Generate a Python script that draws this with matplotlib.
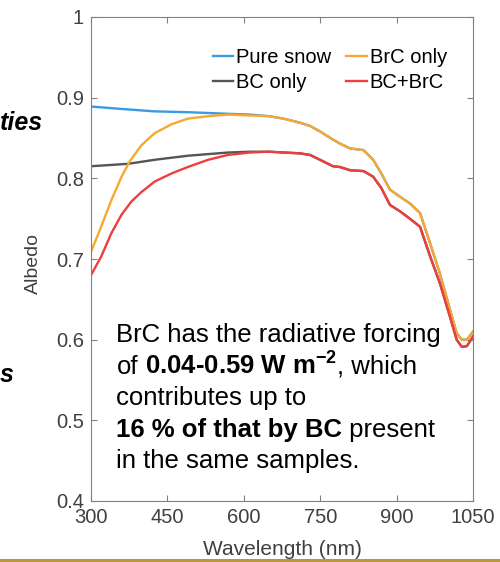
import matplotlib.pyplot as plt
from matplotlib.patches import Rectangle

plt.rcParams['font.family'] = ['Liberation Sans', 'DejaVu Sans']
plt.rcParams['mathtext.fontset'] = 'custom'
plt.rcParams['mathtext.rm'] = 'Liberation Sans'
plt.rcParams['mathtext.bf'] = 'Liberation Sans:bold'
plt.rcParams['lines.solid_joinstyle'] = 'round'

# albedo spectra
wl_snow = [300, 360, 425, 490, 569, 612, 650, 678, 710, 730, 750, 775, 789, 809, 835, 854,
           870, 887, 907, 926, 946, 966, 985, 1005, 1018, 1028, 1038, 1050]
albedo_snow = [0.889, 0.886, 0.883, 0.882, 0.880, 0.879, 0.877, 0.874, 0.869, 0.865, 0.858,
               0.848, 0.843, 0.837, 0.835, 0.823, 0.806, 0.786, 0.777, 0.769, 0.757, 0.719,
               0.682, 0.637, 0.608, 0.600, 0.600, 0.610]

wl_bc = [300, 373, 425, 490, 569, 612, 650, 678, 710, 730, 756, 775, 789, 809, 835, 854,
         870, 887, 907, 926, 946, 966, 985, 1005, 1018, 1028, 1038, 1050]
albedo_bc = [0.815, 0.818, 0.823, 0.828, 0.832, 0.833, 0.833, 0.832, 0.831, 0.829, 0.821,
             0.815, 0.814, 0.810, 0.809, 0.802, 0.788, 0.767, 0.759, 0.750, 0.740, 0.703,
             0.670, 0.628, 0.600, 0.591, 0.592, 0.604]

wl_brc = [300, 320, 340, 360, 376, 399, 425, 458, 490, 530, 569, 612, 650, 678, 710, 730,
          750, 775, 789, 809, 835, 854, 870, 887, 907, 926, 946, 966, 985, 1005, 1018, 1028,
          1038, 1050]
albedo_brc = [0.709, 0.740, 0.773, 0.802, 0.821, 0.841, 0.856, 0.867, 0.874, 0.877, 0.879,
              0.878, 0.877, 0.874, 0.869, 0.865, 0.858, 0.848, 0.843, 0.837, 0.835, 0.823,
              0.806, 0.786, 0.777, 0.769, 0.757, 0.719, 0.682, 0.637, 0.608, 0.600, 0.600,
              0.610]

wl_mix = [300, 320, 340, 360, 379, 399, 425, 458, 490, 530, 569, 612, 650, 678, 710, 730,
          756, 775, 789, 809, 835, 854, 870, 887, 907, 926, 946, 966, 985, 1005, 1018, 1028,
          1038, 1050]
albedo_mix = [0.680, 0.703, 0.732, 0.755, 0.771, 0.783, 0.796, 0.806, 0.814, 0.823, 0.829,
              0.832, 0.833, 0.832, 0.831, 0.829, 0.821, 0.815, 0.814, 0.810, 0.809, 0.802,
              0.788, 0.767, 0.759, 0.750, 0.740, 0.703, 0.670, 0.628, 0.600, 0.591, 0.592,
              0.604]

x_ticks = [300, 450, 600, 750, 900, 1050]
y_ticks = [0.4, 0.5, 0.6, 0.7, 0.8, 0.9, 1.0]
y_labels = ['0.4', '0.5', '0.6', '0.7', '0.8', '0.9', '1']

note_lines = [
    [('BrC has the radiative forcing', 'normal')],
    [('of', 'normal'), (r' 0.04-0.59 W m$^{\mathbf{-2}}$', 'bold'), (', which', 'normal')],
    [('contributes up to', 'normal')],
    [('16 % of that by BC', 'bold'), (' present', 'normal')],
    [('in the same samples.', 'normal')],
]

fig = plt.figure(figsize=(5, 5.62), dpi=100)
ax = fig.add_axes([91 / 500, 1 - 501 / 562, 382 / 500, 484 / 562])

ax.plot(wl_snow, albedo_snow, color='#3b9ae1', lw=1.7, label='Pure snow')
ax.plot(wl_bc, albedo_bc, color='#555555', lw=1.7, label='BC only')
ax.plot(wl_brc, albedo_brc, color='#f8a830', lw=1.7, label='BrC only')
ax.plot(wl_mix, albedo_mix, color='#ef3e3e', lw=1.7, label='BC+BrC')

ax.set_xlim(300, 1050)
ax.set_ylim(0.4, 1.0)
ax.set_xticks(x_ticks)
ax.set_yticks(y_ticks)
ax.set_yticklabels(y_labels)
for s in ax.spines.values():
    s.set_color('#808080')
ax.tick_params(direction='in', top=True, right=True, length=4, color='#808080',
               labelcolor='#404040', labelsize=14.5, pad=5)

ax.set_xlabel('Wavelength (nm)', fontsize=15, color='#404040')
ax.xaxis.set_label_coords(0.5, -0.08)
ax.set_ylabel('Albedo', fontsize=14, color='#404040')
ax.yaxis.set_label_coords(-0.128, 0.49)

ax.legend(ncol=2, loc='upper left', bbox_to_anchor=((213 - 91) / 382, (501 - 48) / 484),
          frameon=False, fontsize=14.5, borderaxespad=0, borderpad=0, handlelength=1.0,
          handletextpad=0.15, columnspacing=0.75, labelspacing=0.28)

# text note, pieces chained one after another on each line
for i, parts in enumerate(note_lines):
    y = 562 - (342 + 31.5 * i)
    t = ax.annotate(parts[0][0], xy=(116.5, y), xycoords='figure pixels', va='baseline',
                    fontsize=18.5, fontweight=parts[0][1], color='black')
    for txt, w in parts[1:]:
        t = ax.annotate(txt, xy=(1, 0), xycoords=t, va='bottom', fontsize=18.5,
                        fontweight=w, color='black')

# cut-off slide text on the left
fig.text(0, 1 - 130 / 562, 'ties', fontsize=18, fontweight='bold', fontstyle='italic',
         va='baseline')
fig.text(0, 1 - 382 / 562, 's', fontsize=18, fontweight='bold', fontstyle='italic',
         va='baseline')

fig.add_artist(Rectangle((0, 0), 1, 3 / 562, transform=fig.transFigure,
                         color='#b8963c', lw=0))

fig.savefig('out.png', dpi=100)
